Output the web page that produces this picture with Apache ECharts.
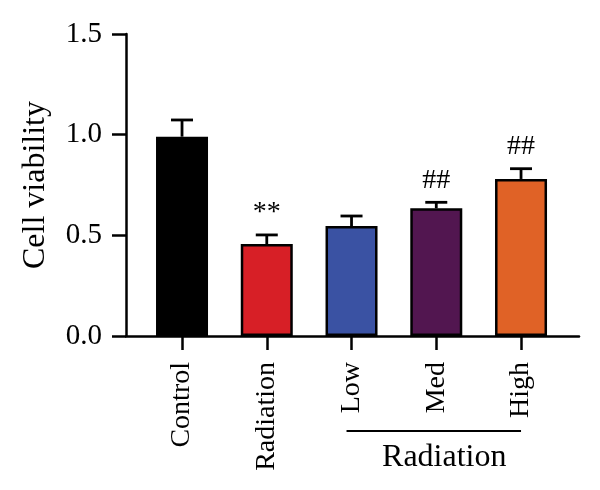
<!DOCTYPE html>
<html>
<head>
<meta charset="utf-8">
<script src="https://cdn.jsdelivr.net/npm/echarts@6/dist/echarts.min.js"></script>
<style>
  html, body { margin: 0; padding: 0; background: #fff; }
  #chart { width: 600px; height: 490px; }
</style>
</head>
<body>
<div id="chart"></div>
<script>
// groups and values
const categories = ["Control", "Radiation", "Low", "Med", "High"];
const means = [0.99, 0.457, 0.546, 0.634, 0.78];
const errUpper = [1.073, 0.502, 0.596, 0.664, 0.831];
const marks = ["", "**", "", "##", "##"];
const barColors = ["#000000", "#d71f26", "#3a52a3", "#521650", "#e06226"];
const groupLabel = "Radiation";
const groupFrom = 2, groupTo = 4;

const serif = "'Liberation Serif', 'DejaVu Serif', serif";
const positions = categories.map((c, i) => i);

const chart = echarts.init(document.getElementById("chart"));

const option = {
  backgroundColor: "#fff",
  animation: false,
  grid: { left: 126, right: 21, top: 34, bottom: 154 },
  xAxis: {
    type: "value",
    min: -0.661,
    max: 4.684,
    splitLine: { show: false },
    axisLine: { onZero: false, lineStyle: { color: "#000", width: 2.5 } },
    axisTick: {
      customValues: positions,
      length: 14,
      lineStyle: { color: "#000", width: 2.5 }
    },
    axisLabel: {
      customValues: positions,
      rotate: 90,
      margin: 26,
      color: "#000",
      fontFamily: serif,
      fontSize: 28,
      formatter: v => categories[Math.round(v)]
    }
  },
  yAxis: {
    type: "value",
    min: 0,
    max: 1.5,
    interval: 0.5,
    name: "Cell viability",
    nameLocation: "middle",
    nameGap: 74,
    nameTextStyle: { color: "#000", fontFamily: serif, fontSize: 32 },
    splitLine: { show: false },
    axisLine: { show: true, onZero: false, lineStyle: { color: "#000", width: 2.5 } },
    axisTick: { show: true, length: 14, lineStyle: { color: "#000", width: 2.5 } },
    axisLabel: {
      margin: 24,
      color: "#000",
      fontFamily: serif,
      fontSize: 29,
      formatter: v => v.toFixed(1)
    }
  },
  series: [
    {
      type: "custom",
      z: 1,
      data: positions.map(i => [i, means[i], errUpper[i]]),
      renderItem: function (params, api) {
        const x = api.value(0);
        const top = api.coord([x, api.value(1)]);
        const hi = api.coord([x, api.value(2)]);
        const capHalf = 11;
        const style = { stroke: "#000", lineWidth: 2.8 };
        const children = [
          { type: "line", shape: { x1: top[0], y1: top[1], x2: hi[0], y2: hi[1] }, style: style },
          { type: "line", shape: { x1: hi[0] - capHalf, y1: hi[1], x2: hi[0] + capHalf, y2: hi[1] }, style: style }
        ];
        const m = marks[params.dataIndex];
        if (m) {
          children.push({
            type: "text",
            x: hi[0],
            y: hi[1] - 8,
            style: {
              text: m,
              fill: "#000",
              font: "28px " + serif,
              align: "center",
              verticalAlign: "bottom"
            }
          });
        }
        return { type: "group", children: children };
      }
    },
    {
      type: "bar",
      z: 2,
      barWidth: 52,
      data: positions.map(i => ({
        value: [i, means[i]],
        itemStyle: { color: barColors[i], borderColor: "#000", borderWidth: 2.5 }
      }))
    }
  ]
};

chart.setOption(option);

// bracket line and group label under Low / Med / High
const xa = chart.convertToPixel({ xAxisIndex: 0 }, groupFrom);
const xb = chart.convertToPixel({ xAxisIndex: 0 }, groupTo);
chart.setOption({
  graphic: [
    {
      type: "line",
      shape: { x1: xa - 5, y1: 431, x2: xb, y2: 431 },
      style: { stroke: "#000", lineWidth: 2.2 }
    },
    {
      type: "text",
      x: (xa + xb) / 2 + 8,
      y: 458,
      style: {
        text: groupLabel,
        fill: "#000",
        font: "32px " + serif,
        align: "center",
        verticalAlign: "middle"
      }
    }
  ]
});
</script>
</body>
</html>
